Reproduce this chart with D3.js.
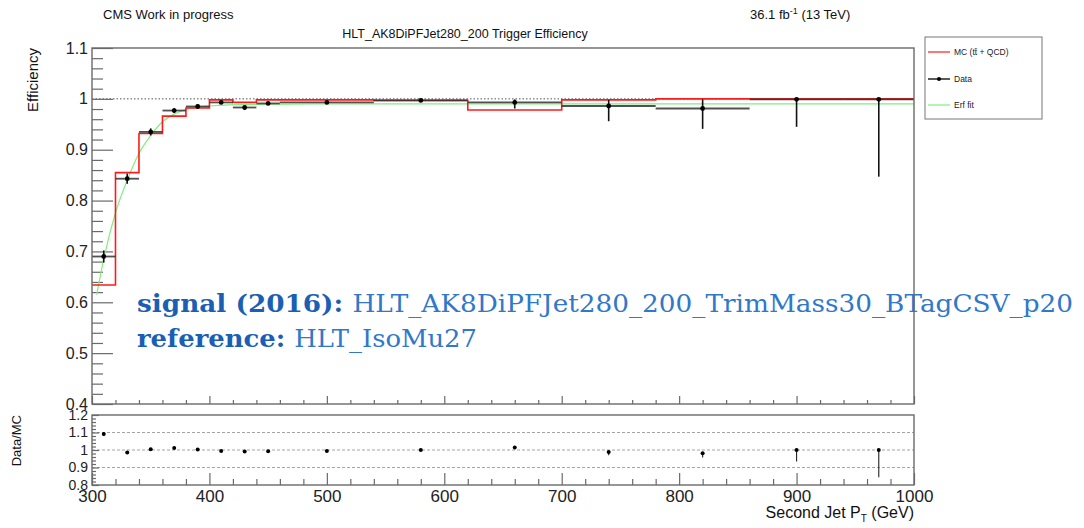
<!DOCTYPE html>
<html>
<head>
<meta charset="utf-8">
<script src="https://cdn.jsdelivr.net/npm/d3@7"></script>
<style>
  html, body { margin: 0; padding: 0; background: #fff; }
  svg { display: block; }
  .sans { font-family: "Liberation Sans", Arial, sans-serif; }
  .serif { font-family: "DejaVu Serif", "Liberation Serif", serif; }
</style>
</head>
<body>
<svg id="chart" width="1084" height="528" class="sans"></svg>
<script>
// ---------------- data ----------------
const binEdges   = [300, 320, 340, 360, 380, 400, 420, 440, 460, 540, 620, 700, 780, 860, 940, 1000];
const binCenters = [310, 330, 350, 370, 390, 410, 430, 450, 500, 580, 660, 740, 820, 900, 970];
const mcEff      = [0.634, 0.855, 0.932, 0.966, 0.982, 0.998, 0.993, 0.998, 0.998, 0.997, 0.978, 0.998, 1.0, 1.0, 1.0];
const dataEff    = [0.690, 0.843, 0.935, 0.977, 0.985, 0.993, 0.983, 0.991, 0.993, 0.997, 0.993, 0.986, 0.981, 0.999, 0.999];
const dataErrUp  = [0.012, 0.010, 0.007, 0.005, 0.004, 0.003, 0.004, 0.003, 0.002, 0.002, 0.006, 0.012, 0.018, 0.001, 0.001];
const dataErrDn  = [0.012, 0.010, 0.007, 0.005, 0.004, 0.003, 0.005, 0.003, 0.002, 0.002, 0.012, 0.030, 0.040, 0.054, 0.152];
const ratio      = [1.092, 0.986, 1.004, 1.011, 1.003, 0.995, 0.991, 0.993, 0.995, 1.000, 1.015, 0.988, 0.982, 1.000, 1.000];
const ratioErrUp = [0.010, 0.006, 0.003, 0.003, 0.002, 0.002, 0.003, 0.003, 0.002, 0.002, 0.006, 0.006, 0.006, 0.001, 0.001];
const ratioErrDn = [0.010, 0.008, 0.003, 0.003, 0.002, 0.002, 0.003, 0.003, 0.002, 0.002, 0.006, 0.018, 0.025, 0.065, 0.155];
// Erf fit curve
const fitX = [304, 310, 320, 330, 340, 350, 360, 370, 380, 400, 440, 500, 1000];
const fitY = [0.615, 0.685, 0.776, 0.840, 0.893, 0.928, 0.955, 0.970, 0.979, 0.986, 0.989, 0.990, 0.990];

const xMajorTicks = [300, 400, 500, 600, 700, 800, 900, 1000];
const yMainTicks  = [0.4, 0.5, 0.6, 0.7, 0.8, 0.9, 1.0, 1.1];
const yMainLabels = ["0.4", "0.5", "0.6", "0.7", "0.8", "0.9", "1", "1.1"];
const yRatioTicks = [0.8, 0.9, 1.0, 1.1, 1.2];
const yRatioLabels = ["0.8", "0.9", "1", "1.1", "1.2"];

// ---------------- layout ----------------
const svg = d3.select("#chart");
const L = 92, R = 914;
const mainTop = 48, mainBot = 404;
const ratTop = 415, ratBot = 485;

const x  = d3.scaleLinear().domain([300, 1000]).range([L, R]);
const y  = d3.scaleLinear().domain([0.4, 1.1]).range([mainBot, mainTop]);
const yr = d3.scaleLinear().domain([0.8, 1.2]).range([ratBot, ratTop]);

svg.append("rect").attr("width", 1084).attr("height", 528).attr("fill", "#fff");

const frameColor = "#6a6a6a";
const xMinor = d3.range(300, 1001, 20).filter(v => v % 100 !== 0);
const yMinor = d3.range(0.4, 1.1001, 0.02).filter(v => Math.abs(v*10 - Math.round(v*10)) > 1e-6);
const yrMinor = d3.range(0.8, 1.2001, 0.02).filter(v => Math.abs(v*10 - Math.round(v*10)) > 1e-6);

function styleAxis(g, fs) {
  g.attr("font-family", null).attr("font-size", null);
  g.select(".domain").remove();
  g.selectAll(".tick line").attr("stroke", frameColor).attr("stroke-width", 1.2);
  g.selectAll(".tick text").attr("fill", "#222").style("font-size", fs + "px")
    .style("font-family", "'Liberation Sans', Arial, sans-serif");
}

// ---------- main panel ----------
svg.append("line").attr("x1", L).attr("x2", R).attr("y1", y(1)).attr("y2", y(1))
  .attr("stroke", "#555").attr("stroke-width", 1).attr("stroke-dasharray", "1.5,2");

svg.append("g").attr("transform", `translate(${L},0)`)
  .call(d3.axisLeft(y).tickValues(yMainTicks).tickSizeInner(-21).tickSizeOuter(0).tickPadding(4)
    .tickFormat((d, i) => yMainLabels[i]))
  .call(g => styleAxis(g, 16));
svg.append("g").attr("transform", `translate(${L},0)`)
  .call(d3.axisLeft(y).tickValues(yMinor).tickSizeInner(-11).tickSizeOuter(0).tickFormat(""))
  .call(g => styleAxis(g, 16));
svg.append("g").attr("transform", `translate(0,${mainBot})`)
  .call(d3.axisTop(x).tickValues(xMajorTicks).tickSizeInner(8).tickSizeOuter(0).tickFormat(""))
  .call(g => styleAxis(g, 16));
svg.append("g").attr("transform", `translate(0,${mainBot})`)
  .call(d3.axisTop(x).tickValues(xMinor).tickSizeInner(4).tickSizeOuter(0).tickFormat(""))
  .call(g => styleAxis(g, 16));

// blue annotation
const ann = svg.append("g");
const t1 = ann.append("text").attr("class", "serif").attr("x", 137).attr("y", 312).style("font-size", "24px");
t1.append("tspan").attr("fill", "#1a5fb4").attr("font-weight", "bold").text("signal (2016): ");
t1.append("tspan").attr("fill", "#3078c9").text("HLT_AK8DiPFJet280_200_TrimMass30_BTagCSV_p20");
t1.attr("textLength", 936).attr("lengthAdjust", "spacingAndGlyphs");
const t2 = ann.append("text").attr("class", "serif").attr("x", 137).attr("y", 347).style("font-size", "24px");
t2.append("tspan").attr("fill", "#1a5fb4").attr("font-weight", "bold").text("reference: ");
t2.append("tspan").attr("fill", "#3078c9").text("HLT_IsoMu27");
t2.attr("textLength", 340).attr("lengthAdjust", "spacingAndGlyphs");

// fit curve
const fitPts = fitX.map((v, i) => [v, fitY[i]]);
svg.append("path").datum(fitPts)
  .attr("d", d3.line().x(d => x(d[0])).y(d => y(d[1])).curve(d3.curveMonotoneX))
  .attr("fill", "none").attr("stroke", "#80ee80").attr("stroke-width", 1.2);

// MC step histogram
const stepPts = [];
mcEff.forEach((v, i) => { stepPts.push([binEdges[i], v]); stepPts.push([binEdges[i+1], v]); });
svg.append("path").datum(stepPts)
  .attr("d", d3.line().x(d => x(d[0])).y(d => y(d[1])))
  .attr("fill", "none").attr("stroke", "#ff1a1a").attr("stroke-width", 1.6);

// data points
const dg = svg.append("g");
binCenters.forEach((c, i) => {
  dg.append("line").attr("x1", x(binEdges[i])).attr("x2", x(binEdges[i+1]))
    .attr("y1", y(dataEff[i])).attr("y2", y(dataEff[i]))
    .attr("stroke", "#333").attr("stroke-width", 1.8).attr("stroke-opacity", 0.85);
  dg.append("line").attr("x1", x(c)).attr("x2", x(c))
    .attr("y1", y(dataEff[i] + dataErrUp[i])).attr("y2", y(dataEff[i] - dataErrDn[i]))
    .attr("stroke", "#111").attr("stroke-width", 1.6);
  dg.append("circle").attr("cx", x(c)).attr("cy", y(dataEff[i])).attr("r", 2.4).attr("fill", "#000");
});

// main frame
svg.append("rect").attr("x", L).attr("y", mainTop).attr("width", R - L).attr("height", mainBot - mainTop)
  .attr("fill", "none").attr("stroke", frameColor).attr("stroke-width", 1.4);

// ---------- ratio panel ----------
[0.9, 1.0, 1.1].forEach(v => {
  svg.append("line").attr("x1", L).attr("x2", R).attr("y1", yr(v)).attr("y2", yr(v))
    .attr("stroke", "#9a9a9a").attr("stroke-width", 0.9).attr("stroke-dasharray", "3,2");
});
svg.append("g").attr("transform", `translate(${L},0)`)
  .call(d3.axisLeft(yr).tickValues(yRatioTicks).tickSizeInner(-7).tickSizeOuter(0).tickPadding(4)
    .tickFormat((d, i) => yRatioLabels[i]))
  .call(g => styleAxis(g, 14));
svg.append("g").attr("transform", `translate(${L},0)`)
  .call(d3.axisLeft(yr).tickValues(yrMinor).tickSizeInner(-4).tickSizeOuter(0).tickFormat(""))
  .call(g => styleAxis(g, 14));
svg.append("g").attr("transform", `translate(0,${ratBot})`)
  .call(d3.axisBottom(x).tickValues(xMajorTicks).tickSizeInner(-12).tickSizeOuter(0).tickPadding(5)
    .tickFormat(d3.format("d")))
  .call(g => styleAxis(g, 17));
svg.append("g").attr("transform", `translate(0,${ratBot})`)
  .call(d3.axisBottom(x).tickValues(xMinor).tickSizeInner(-6).tickSizeOuter(0).tickFormat(""))
  .call(g => styleAxis(g, 17));

const rg = svg.append("g");
binCenters.forEach((c, i) => {
  rg.append("line").attr("x1", x(c)).attr("x2", x(c))
    .attr("y1", yr(ratio[i] + ratioErrUp[i])).attr("y2", yr(ratio[i] - ratioErrDn[i]))
    .attr("stroke", "#222").attr("stroke-width", 1.1);
  rg.append("circle").attr("cx", x(c)).attr("cy", yr(ratio[i])).attr("r", 2).attr("fill", "#000");
});
svg.append("rect").attr("x", L).attr("y", ratTop).attr("width", R - L).attr("height", ratBot - ratTop)
  .attr("fill", "none").attr("stroke", frameColor).attr("stroke-width", 1.4);

// ---------- texts ----------
svg.append("text").attr("x", 103).attr("y", 19).style("font-size", "13px").attr("fill", "#111")
  .text("CMS Work in progress");
const lumi = svg.append("text").attr("x", 750).attr("y", 19).style("font-size", "13px").attr("fill", "#111");
lumi.append("tspan").text("36.1 fb");
lumi.append("tspan").attr("dy", -5).style("font-size", "9px").text("-1");
lumi.append("tspan").attr("dy", 5).text(" (13 TeV)");
svg.append("text").attr("x", 465).attr("y", 38).attr("text-anchor", "middle").style("font-size", "12.5px")
  .attr("fill", "#111").text("HLT_AK8DiPFJet280_200 Trigger Efficiency");

svg.append("text").attr("transform", `translate(38,${mainTop}) rotate(-90)`).attr("text-anchor", "end")
  .style("font-size", "15px").attr("fill", "#111").text("Efficiency");
svg.append("text").attr("transform", `translate(21,${ratTop}) rotate(-90)`).attr("text-anchor", "end")
  .style("font-size", "13px").attr("fill", "#111").text("Data/MC");

const xt = svg.append("text").attr("x", R).attr("y", 518).attr("text-anchor", "end")
  .style("font-size", "16px").attr("fill", "#111");
xt.append("tspan").text("Second Jet P");
xt.append("tspan").attr("dy", 4).style("font-size", "10px").text("T");
xt.append("tspan").attr("dy", -4).text(" (GeV)");

// ---------- legend ----------
const lg = svg.append("g");
lg.append("rect").attr("x", 925).attr("y", 37).attr("width", 117).attr("height", 82)
  .attr("fill", "#fff").attr("stroke", "#777").attr("stroke-width", 1);
const legItems = [
  { label: "MC (tt\u0304 + QCD)", color: "#ff1a1a", y: 52, marker: false },
  { label: "Data", color: "#222", y: 79, marker: true },
  { label: "Erf fit", color: "#80ee80", y: 105, marker: false }
];
legItems.forEach(it => {
  lg.append("line").attr("x1", 928).attr("x2", 950).attr("y1", it.y).attr("y2", it.y)
    .attr("stroke", it.color).attr("stroke-width", it.marker ? 1.5 : 1.2);
  if (it.marker) lg.append("circle").attr("cx", 939).attr("cy", it.y).attr("r", 2).attr("fill", "#000");
  lg.append("text").attr("x", 954).attr("y", it.y + 3).style("font-size", "8.5px").attr("fill", "#222").text(it.label);
});
</script>
</body>
</html>
